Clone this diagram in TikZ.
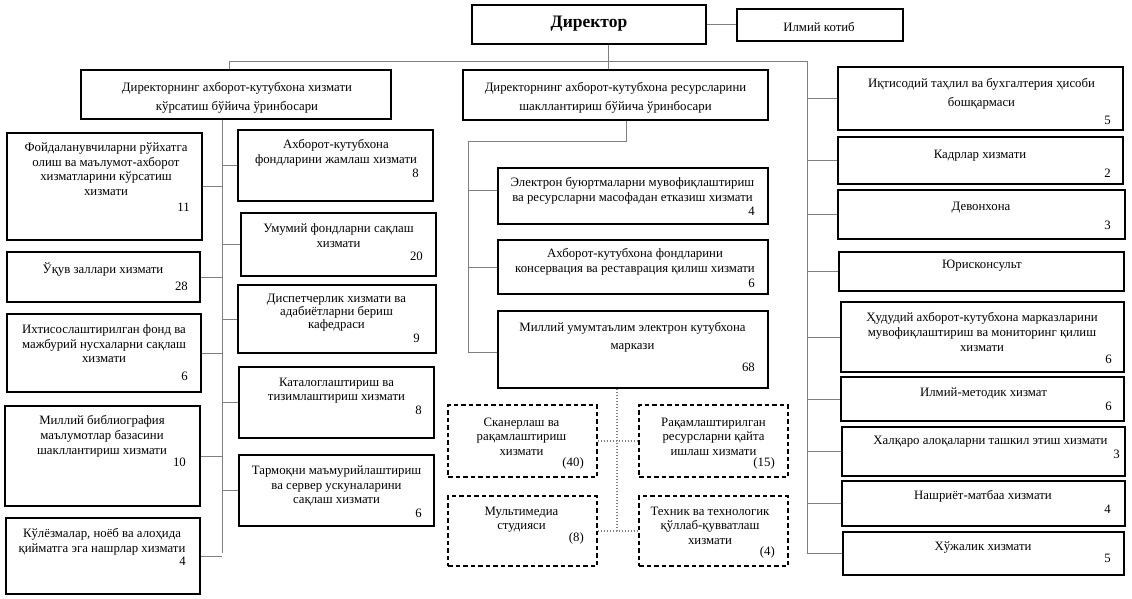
\documentclass[tikz,border=0pt]{standalone}
\usepackage{fontspec}
\setmainfont{Liberation Serif}
\usetikzlibrary{fit}
\newcommand\Bx[6][box]{\node[#1, fit={(#3,#4) (#5,#6)}] (#2) {};}
\begin{document}
\begin{tikzpicture}[x=1pt,y=-1pt,
  box/.style={draw=black, line width=1.4pt, inner sep=0pt},
  dbox/.style={draw=black, line width=1.2pt, dash pattern=on 4.5pt off 3pt, inner sep=0pt},
  txt/.style={font=\fontsize{12.8}{14.7}\selectfont, align=center, anchor=north, inner sep=0pt, yshift=-1.5pt},
  wtxt/.style={font=\fontsize{12.8}{19}\selectfont, align=center, anchor=north, inner sep=0pt, yshift=-1.5pt},
  num/.style={font=\fontsize{12.8}{14.7}\selectfont, anchor=east, inner sep=0pt},
  conn/.style={draw=black!50, line width=1pt},
  dconn/.style={draw=black!50, line width=1.1pt, dash pattern=on 1.5pt off 1.5pt}]
\useasboundingbox (0,0) rectangle (1132,599);

% top
\Bx{dir}{472}{5}{706}{44}
\node[font=\fontsize{17.5}{20}\selectfont\bfseries, inner sep=0pt] (dirt) at (589,23.5) {Директор};
\Bx{kot}{737}{9}{903}{41}
\node[txt, anchor=center, yshift=0pt] (kott) at (819,25) {Илмий котиб};
\Bx{ldep}{81}{70}{391}{119}
\node[wtxt] (ldept) at (237,81) {Директорнинг ахборот-кутубхона хизмати\\кўрсатиш бўйича ўринбосари};
\Bx{cdep}{463}{70}{768}{120}
\node[wtxt] (cdept) at (615.5,81) {Директорнинг ахборот-кутубхона ресурсларини\\шакллантириш бўйича ўринбосари};

% left column
\Bx{L1}{7}{133}{202}{240}
\node[txt] (L1t) at (106,141) {Фойдаланувчиларни рўйхатга\\олиш ва маълумот-ахборот\\хизматларини кўрсатиш\\хизмати};
\node[num] (L1n) at (190,207) {11};
\Bx{L2}{7}{252}{200}{302}
\node[txt] (L2t) at (103,261) {Ўқув заллари хизмати};
\node[num] (L2n) at (188,286) {28};
\Bx{L3}{7}{314}{201}{392}
\node[txt] (L3t) at (104,323) {Ихтисослаштирилган фонд ва\\мажбурий нусхаларни сақлаш\\хизмати};
\node[num] (L3n) at (188,376) {6};
\Bx{L4}{5}{406}{200}{506}
\node[txt] (L4t) at (102,414) {Миллий библиография\\маълумотлар базасини\\шакллантириш хизмати};
\node[num] (L4n) at (186,462) {10};
\Bx{L5}{6}{518}{200}{594}
\node[txt] (L5t) at (102,527) {Кўлёзмалар, ноёб ва алоҳида\\қийматга эга нашрлар хизмати};
\node[num] (L5n) at (186,561) {4};

% inner column
\Bx{R1}{238}{130}{433}{201}
\node[txt] (R1t) at (336,138) {Ахборот-кутубхона\\фондларини жамлаш хизмати};
\node[num] (R1n) at (419,173) {8};
\Bx{R2}{241}{213}{436}{276}
\node[txt] (R2t) at (338.5,222) {Умумий фондларни сақлаш\\хизмати};
\node[num] (R2n) at (423,256) {20};
\Bx{R3}{238}{285}{436}{353}
\node[txt, font=\fontsize{12.8}{13}\selectfont] (R3t) at (336.5,292) {Диспетчерлик хизмати ва\\адабиётларни бериш\\кафедраси};
\node[num] (R3n) at (420,338) {9};
\Bx{R4}{239}{367}{434}{438}
\node[txt] (R4t) at (336.5,376) {Каталоглаштириш ва\\тизимлаштириш хизмати};
\node[num] (R4n) at (422,410) {8};
\Bx{R5}{239}{455}{434}{526}
\node[txt] (R5t) at (336.5,464) {Тармоқни маъмурийлаштириш\\ва сервер ускуналарини\\сақлаш хизмати};
\node[num] (R5n) at (422,513) {6};

% centre column
\Bx{C1}{498}{168}{768}{224}
\node[txt] (C1t) at (632.5,176) {Электрон буюртмаларни мувофиқлаштириш\\ва ресурсларни масофадан етказиш хизмати};
\node[num] (C1n) at (755,211) {4};
\Bx{C2}{498}{240}{768}{294}
\node[txt] (C2t) at (635,247) {Ахборот-кутубхона фондларини\\консервация ва реставрация қилиш хизмати};
\node[num] (C2n) at (755,283) {6};
\Bx{C3}{498}{311}{768}{388}
\node[txt, font=\fontsize{12.8}{18}\selectfont] (C3t) at (632.5,321) {Миллий умумтаълим электрон кутубхона\\маркази};
\node[num] (C3n) at (755,367) {68};

% dashed boxes
\Bx[dbox]{D1}{448}{405}{597}{477}
\node[txt] (D1t) at (521.5,416) {Сканерлаш ва\\рақамлаштириш\\хизмати};
\node[num] (D1n) at (584,463) {(40)};
\Bx[dbox]{D2}{639}{405}{788}{477}
\node[txt] (D2t) at (713.5,416) {Рақамлаштирилган\\ресурсларни қайта\\ишлаш хизмати};
\node[num] (D2n) at (775,463) {(15)};
\Bx[dbox]{D3}{448}{496}{597}{566}
\node[txt] (D3t) at (521.5,505) {Мультимедиа\\студияси};
\node[num] (D3n) at (584,538) {(8)};
\Bx[dbox]{D4}{639}{496}{788}{566}
\node[txt] (D4t) at (710,505) {Техник ва технологик\\қўллаб-қувватлаш\\хизмати};
\node[num] (D4n) at (775,552) {(4)};

% right column
\Bx{E1}{838}{67}{1123}{130}
\node[wtxt] (E1t) at (981.5,77) {Иқтисодий таҳлил ва бухгалтерия ҳисоби\\бошқармаси};
\node[num] (E1n) at (1111,120) {5};
\Bx{E2}{838}{137}{1123}{184}
\node[txt] (E2t) at (980,148) {Кадрлар хизмати};
\node[num] (E2n) at (1111,173) {2};
\Bx{E3}{838}{190}{1125}{239}
\node[txt] (E3t) at (981,200) {Девонхона};
\node[num] (E3n) at (1111,225) {3};
\Bx{E4}{839}{252}{1124}{291}
\node[txt] (E4t) at (982,258) {Юрисконсульт};
\Bx{E5}{841}{302}{1124}{372}
\node[txt] (E5t) at (982,311) {Ҳудудий ахборот-кутубхона марказларини\\мувофиқлаштириш ва мониторинг қилиш\\хизмати};
\node[num] (E5n) at (1112,359) {6};
\Bx{E6}{841}{377}{1124}{421}
\node[txt] (E6t) at (983.5,386) {Илмий-методик хизмат};
\node[num] (E6n) at (1112,406) {6};
\Bx{E7}{842}{427}{1125}{476}
\node[txt] (E7t) at (990.5,434) {Халқаро алоқаларни ташкил этиш хизмати};
\node[num] (E7n) at (1120,454) {3};
\Bx{E8}{842}{481}{1125}{526}
\node[txt] (E8t) at (983,489) {Нашриёт-матбаа хизмати};
\node[num] (E8n) at (1111,509) {4};
\Bx{E9}{843}{532}{1124}{575}
\node[txt] (E9t) at (983,540) {Хўжалик хизмати};
\node[num] (E9n) at (1111,558) {5};

% connectors
\coordinate (topL) at (229,62);
\coordinate (topR) at (807,62);
\coordinate (rbot) at (807,553);
\coordinate (dj) at (608,62);
\coordinate (lt) at (222,553);
\coordinate (cj) at (626,142);
\coordinate (cl) at (468,142);
\coordinate (cb) at (468,352);
\coordinate (dv) at (617,532);

\draw[conn] (dir.east) -- (dir.east -| kot.west);
\draw[conn] (dir.south -| dj) -- (dj |- cdep.north);
\draw[conn] (topL |- ldep.north) -- (topL) -- (topR) -- (rbot);
\draw[conn] (ldep.south -| lt) -- (lt);
\foreach \n in {L1,L2,L3,L4,L5} {\draw[conn] (\n.east) -- (\n.east -| lt);}
\foreach \n in {R1,R2,R3,R4,R5} {\draw[conn] (\n.west) -- (\n.west -| lt);}
\foreach \n in {E1,E2,E3,E4,E5,E6,E7,E8,E9} {\draw[conn] (\n.west) -- (\n.west -| rbot);}
\draw[conn] (cdep.south -| cj) -- (cj) -- (cl) -- (cb) -- (cb -| C3.west);
\draw[conn] ([yshift=6pt]C1.west) -- ([yshift=6pt]C1.west -| cl);
\draw[conn] (C2.west) -- (C2.west -| cl);
\draw[dconn] (C3.south -| dv) -- (dv);
\draw[dconn] (D1.east) -- (D2.west);
\draw[dconn] (D3.east) -- (D4.west);
\end{tikzpicture}
\end{document}
